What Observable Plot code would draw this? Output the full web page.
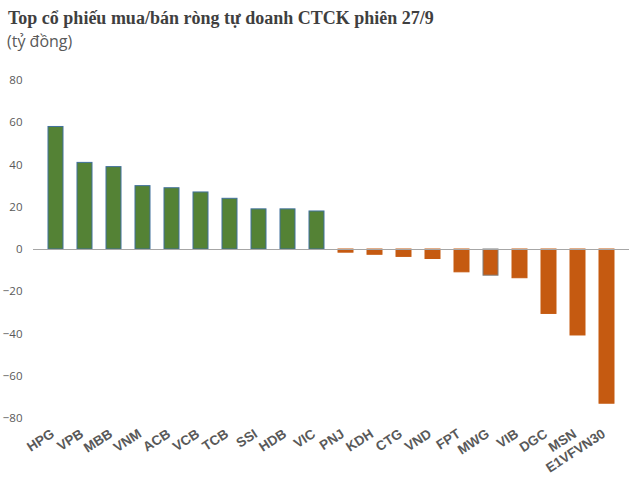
<!DOCTYPE html>
<html>
<head>
<meta charset="utf-8">
<script src="https://cdn.jsdelivr.net/npm/d3@7"></script>
<script src="https://cdn.jsdelivr.net/npm/@observablehq/plot@0.6"></script>
<style>
  body { margin: 0; background: #fff; }
  #wrap { width: 634px; position: relative; }
  #title { font-family: "Liberation Serif", serif; font-weight: bold; font-size: 18px; color: #3f3f3f; padding-left: 8px; height: 30px; line-height: 30px; padding-top: 3px; box-sizing: border-box; white-space: nowrap; }
  #sub { font-family: "Open Sans", sans-serif; font-size: 16px; color: #595959; padding-left: 7px; height: 30px; line-height: 22px; box-sizing: border-box; }
  svg { display: block; }
</style>
</head>
<body>
<div id="wrap">
  <div id="title">Top cổ phiếu mua/bán ròng tự doanh CTCK phiên 27/9</div>
  <div id="sub">(tỷ đồng)</div>
  <div id="chart"></div>
</div>
<script>
const tickers = ["HPG","VPB","MBB","VNM","ACB","VCB","TCB","SSI","HDB","VIC","PNJ","KDH","CTG","VND","FPT","MWG","VIB","DGC","MSN","E1VFVN30"];
const values = [58, 41, 39, 30, 29, 27, 24, 19, 19, 18, -1.5, -2.5, -3.5, -4.5, -10.8, -12.4, -13.6, -30.5, -40.7, -73];
const yTicks = [-80, -60, -40, -20, 0, 20, 40, 60, 80];

const data = tickers.map((t, i) => ({ ticker: t, value: values[i] }));

const GREEN = "#548235", ORANGE = "#c55a11";

const chart = Plot.plot({
  width: 634,
  height: 424,
  marginLeft: 33,
  marginRight: 5,
  marginTop: 20,
  marginBottom: 66,
  style: { fontFamily: "'Liberation Sans', Arial, sans-serif", background: "#fff" },
  x: { domain: tickers, paddingInner: 0.5, paddingOuter: 0.25, label: null },
  y: { domain: [-80, 80], ticks: yTicks, label: null },
  marks: [
    Plot.barY(data, {
      x: "ticker",
      y: "value",
      fill: d => d.value >= 0 ? GREEN : ORANGE,
      stroke: d => d.ticker === "MWG" ? "#7f7f7f" : d.value >= 0 ? "#41719c" : ORANGE,
      strokeWidth: 1
    }),
    Plot.ruleY([0], { stroke: "#a6a6a6", strokeWidth: 1 }),
    Plot.axisY({ ticks: yTicks, tickSize: 0, tickPadding: 11, fontSize: 11.5, fill: "#595959", fontFamily: "'Open Sans', sans-serif", label: null }),
    Plot.axisX({ tickSize: 0, tickPadding: 10, tickRotate: -33, dx: -3, dy: 4, fontSize: 13.5, fontWeight: "bold", fill: "#595959", label: null })
  ]
});
document.getElementById("chart").appendChild(chart);
</script>
</body>
</html>
